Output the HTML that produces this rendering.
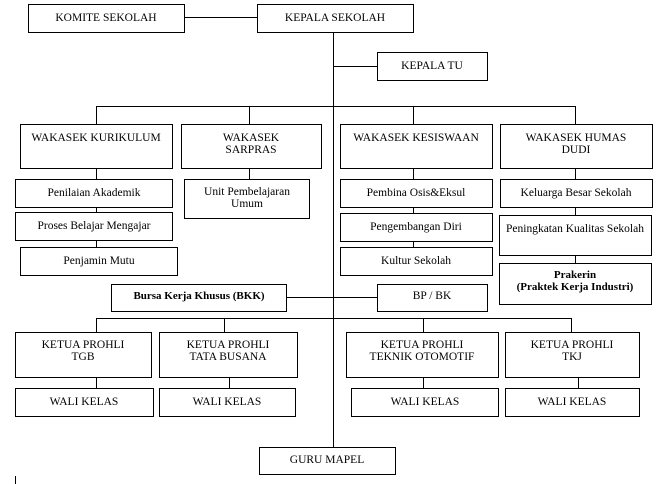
<!DOCTYPE html>
<html><head><meta charset="utf-8"><style>
html,body{margin:0;padding:0;background:#fff;}
svg{display:block;}
text{font-family:"Liberation Serif",serif;font-size:11.5px;fill:#000;text-anchor:middle;}
.b{font-weight:bold;font-size:11px;}
rect{fill:#fff;stroke:#000;stroke-width:1;}
line{stroke:#000;stroke-width:1;}
</style></head><body>
<svg width="668" height="484" viewBox="0 0 668 484">
<!-- connectors -->
<line x1="184" y1="17.5" x2="257" y2="17.5"/>
<line x1="333.5" y1="32" x2="333.5" y2="447"/>
<line x1="333" y1="66.5" x2="377" y2="66.5"/>
<line x1="96" y1="106.5" x2="575" y2="106.5"/>
<line x1="96.5" y1="106" x2="96.5" y2="124"/>
<line x1="249.5" y1="106" x2="249.5" y2="124"/>
<line x1="413.5" y1="106" x2="413.5" y2="124"/>
<line x1="575.5" y1="106" x2="575.5" y2="124"/>
<line x1="96.5" y1="168" x2="96.5" y2="247"/>
<line x1="249.5" y1="168" x2="249.5" y2="179"/>
<line x1="413.5" y1="168" x2="413.5" y2="247"/>
<line x1="575.5" y1="168" x2="575.5" y2="263"/>
<line x1="286" y1="297.5" x2="377" y2="297.5"/>
<line x1="96" y1="318.5" x2="571" y2="318.5"/>
<line x1="96.5" y1="318" x2="96.5" y2="332"/>
<line x1="224.5" y1="318" x2="224.5" y2="332"/>
<line x1="423.5" y1="318" x2="423.5" y2="332"/>
<line x1="571.5" y1="318" x2="571.5" y2="332"/>
<line x1="96.5" y1="377" x2="96.5" y2="388"/>
<line x1="229.5" y1="377" x2="229.5" y2="388"/>
<line x1="423.5" y1="377" x2="423.5" y2="388"/>
<line x1="578.5" y1="377" x2="578.5" y2="388"/>
<line x1="15.5" y1="476" x2="15.5" y2="484"/>
<!-- boxes -->
<rect x="28.5" y="4.5" width="156" height="28"/><text x="106" y="21">KOMITE SEKOLAH</text>
<rect x="257.5" y="4.5" width="156" height="28"/><text x="335" y="21">KEPALA SEKOLAH</text>
<rect x="377.5" y="52.5" width="110" height="28"/><text x="432" y="69">KEPALA TU</text>

<rect x="20.5" y="124.5" width="152" height="44"/><text x="96" y="141">WAKASEK KURIKULUM</text>
<rect x="181.5" y="124.5" width="140" height="44"/><text x="251" y="141">WAKASEK</text><text x="251" y="153">SARPRAS</text>
<rect x="340.5" y="124.5" width="152" height="44"/><text x="416" y="141">WAKASEK KESISWAAN</text>
<rect x="500.5" y="124.5" width="152" height="44"/><text x="576" y="141">WAKASEK HUMAS</text><text x="576" y="153">DUDI</text>

<rect x="15.5" y="179.5" width="157" height="28"/><text x="94" y="196">Penilaian Akademik</text>
<rect x="15.5" y="212.5" width="157" height="28"/><text x="94" y="229">Proses Belajar Mengajar</text>
<rect x="20.5" y="247.5" width="157" height="28"/><text x="99" y="264">Penjamin Mutu</text>
<rect x="184.5" y="179.5" width="125" height="39"/><text x="247" y="195">Unit Pembelajaran</text><text x="247" y="207">Umum</text>

<rect x="340.5" y="179.5" width="152" height="28"/><text x="416" y="196">Pembina Osis&amp;Eksul</text>
<rect x="340.5" y="213.5" width="152" height="28"/><text x="416" y="230">Pengembangan Diri</text>
<rect x="340.5" y="247.5" width="152" height="28"/><text x="416" y="264">Kultur Sekolah</text>

<rect x="500.5" y="179.5" width="152" height="28"/><text x="576" y="196">Keluarga Besar Sekolah</text>
<rect x="499.5" y="215.5" width="152" height="40"/><text x="575" y="232">Peningkatan Kualitas Sekolah</text>
<rect x="499.5" y="263.5" width="152" height="41"/><text class="b" x="575" y="278">Prakerin</text><text class="b" x="575" y="290">(Praktek Kerja Industri)</text>

<rect x="111.5" y="284.5" width="175" height="27"/><text class="b" x="199" y="299">Bursa Kerja Khusus (BKK)</text>
<rect x="377.5" y="284.5" width="110" height="27"/><text x="432" y="299">BP / BK</text>

<rect x="15.5" y="332.5" width="136" height="45"/><text x="83" y="348">KETUA PROHLI</text><text x="83" y="360">TGB</text>
<rect x="159.5" y="332.5" width="138" height="45"/><text x="228" y="348">KETUA PROHLI</text><text x="228" y="360">TATA BUSANA</text>
<rect x="346.5" y="332.5" width="152" height="45"/><text x="422" y="348">KETUA PROHLI</text><text x="422" y="360">TEKNIK OTOMOTIF</text>
<rect x="505.5" y="332.5" width="134" height="45"/><text x="572" y="348">KETUA PROHLI</text><text x="572" y="360">TKJ</text>

<rect x="15.5" y="388.5" width="138" height="28"/><text x="84" y="405">WALI KELAS</text>
<rect x="159.5" y="388.5" width="136" height="28"/><text x="227" y="405">WALI KELAS</text>
<rect x="351.5" y="388.5" width="147" height="28"/><text x="425" y="405">WALI KELAS</text>
<rect x="505.5" y="388.5" width="134" height="28"/><text x="572" y="405">WALI KELAS</text>

<rect x="259.5" y="447.5" width="136" height="27"/><text x="327" y="463">GURU MAPEL</text>
</svg>
</body></html>
